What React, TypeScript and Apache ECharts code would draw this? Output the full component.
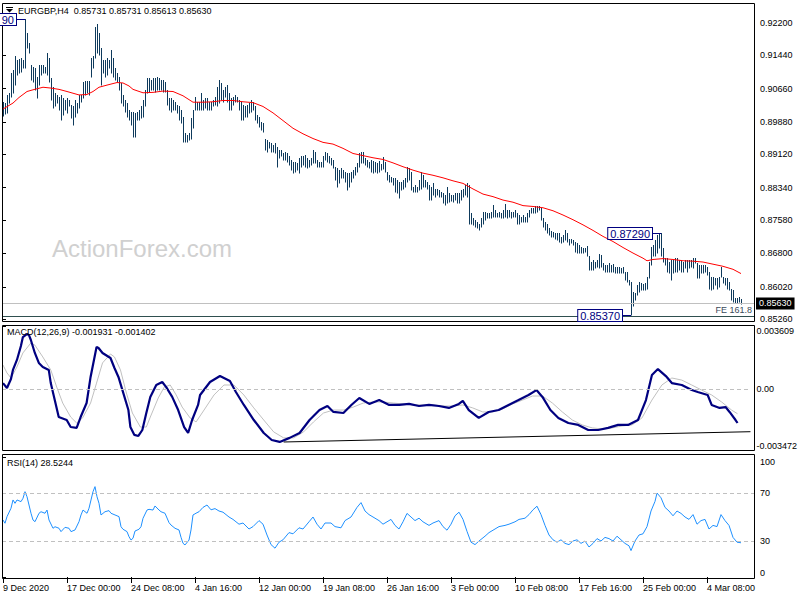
import React, { useEffect, useRef } from "react";
import * as echarts from "echarts";

const FONT = '"Liberation Sans", Arial, sans-serif';
const FS = 9;
const BAR_COLOR = "#0e3a5c";

// ---- price bars (4H, high / low) ----
const barHigh = [
  0.9035,0.9031,0.9051,0.9055,0.9102,0.9109,0.9141,0.9133,0.9134,0.9137,
  0.9133,0.9229,0.9195,0.9172,0.9121,0.9117,0.9113,0.9094,0.9121,0.9121,
  0.9121,0.9117,0.9148,0.9137,0.9090,0.9070,0.9055,0.9051,0.9047,0.9051,
  0.9043,0.9039,0.9043,0.9039,0.9027,0.9024,0.9039,0.9031,0.9051,0.9051,
  0.9082,0.9084,0.9084,0.9084,0.9137,0.9141,0.9211,0.9217,0.9195,0.9160,
  0.9133,0.9133,0.9137,0.9133,0.9156,0.9137,0.9113,0.9102,0.9094,0.9078,
  0.9051,0.9039,0.9031,0.9016,0.9012,0.9012,0.9008,0.9012,0.9016,0.9024,
  0.9039,0.9063,0.9090,0.9090,0.9086,0.9090,0.9090,0.9094,0.9090,0.9086,
  0.9086,0.9082,0.9063,0.9043,0.9043,0.9039,0.9035,0.9027,0.9024,0.9016,
  0.9000,0.8961,0.8957,0.8961,0.8996,0.9016,0.9047,0.9035,0.9035,0.9055,
  0.9039,0.9043,0.9043,0.9035,0.9035,0.9039,0.9047,0.9070,0.9086,0.9078,
  0.9063,0.9070,0.9074,0.9055,0.9043,0.9047,0.9051,0.9047,0.9039,0.9035,
  0.9027,0.9024,0.9027,0.9031,0.9039,0.9035,0.9024,0.9004,0.9000,0.8988,
  0.8985,0.8949,0.8946,0.8942,0.8938,0.8934,0.8938,0.8930,0.8922,0.8922,
  0.8914,0.8918,0.8914,0.8907,0.8899,0.8895,0.8895,0.8891,0.8903,0.8907,
  0.8907,0.8910,0.8903,0.8899,0.8903,0.8922,0.8918,0.8899,0.8895,0.8895,
  0.8907,0.8918,0.8914,0.8907,0.8903,0.8899,0.8883,0.8879,0.8875,0.8879,
  0.8875,0.8871,0.8868,0.8868,0.8871,0.8875,0.8883,0.8891,0.8914,0.8918,
  0.8918,0.8903,0.8899,0.8895,0.8899,0.8896,0.8895,0.8891,0.8896,0.8889,
  0.8905,0.8893,0.8871,0.8864,0.8860,0.8857,0.8857,0.8852,0.8848,0.8848,
  0.8852,0.8856,0.8883,0.8879,0.8871,0.8836,0.8840,0.8836,0.8852,0.8871,
  0.8864,0.8852,0.8848,0.8840,0.8836,0.8844,0.8832,0.8832,0.8829,0.8825,
  0.8821,0.8817,0.8836,0.8821,0.8818,0.8817,0.8821,0.8821,0.8821,0.8829,
  0.8832,0.8840,0.8844,0.8840,0.8774,0.8762,0.8758,0.8754,0.8750,0.8762,
  0.8778,0.8778,0.8774,0.8774,0.8778,0.8793,0.8782,0.8774,0.8778,0.8774,
  0.8782,0.8795,0.8782,0.8782,0.8778,0.8778,0.8782,0.8774,0.8770,0.8766,
  0.8770,0.8766,0.8774,0.8782,0.8786,0.8787,0.8790,0.8790,0.8790,0.8786,
  0.8762,0.8754,0.8750,0.8739,0.8733,0.8731,0.8729,0.8729,0.8727,0.8719,
  0.8723,0.8735,0.8727,0.8715,0.8715,0.8712,0.8708,0.8704,0.8700,0.8696,
  0.8692,0.8694,0.8698,0.8673,0.8661,0.8665,0.8661,0.8665,0.8678,0.8676,
  0.8657,0.8653,0.8653,0.8657,0.8653,0.8655,0.8649,0.8649,0.8649,0.8647,
  0.8649,0.8637,0.8636,0.8618,0.8614,0.8591,0.8587,0.8606,0.8614,0.8610,
  0.8608,0.8610,0.8626,0.8661,0.8696,0.8700,0.8712,0.8723,0.8727,0.8729,
  0.8692,0.8669,0.8669,0.8661,0.8665,0.8665,0.8669,0.8669,0.8665,0.8665,
  0.8661,0.8665,0.8665,0.8665,0.8665,0.8669,0.8669,0.8657,0.8653,0.8653,
  0.8653,0.8653,0.8649,0.8637,0.8626,0.8626,0.8622,0.8622,0.8626,0.8649,
  0.8626,0.8622,0.8622,0.8614,0.8598,0.8595,0.8575,0.8575,0.8579,0.8573,
];

const barLow = [
  0.9002,0.9006,0.9008,0.9031,0.9047,0.9055,0.9074,0.9098,0.9102,0.9105,
  0.9113,0.9113,0.9160,0.9148,0.9086,0.9082,0.9063,0.9043,0.9074,0.9098,
  0.9102,0.9102,0.9098,0.9082,0.9039,0.9020,0.9024,0.9031,0.9016,0.8992,
  0.9004,0.9016,0.9008,0.9024,0.8996,0.8981,0.9000,0.9008,0.9020,0.9035,
  0.9043,0.9051,0.9055,0.9051,0.9094,0.9113,0.9137,0.9148,0.9144,0.9074,
  0.9102,0.9094,0.9098,0.9113,0.9102,0.9094,0.9086,0.9082,0.9063,0.9031,
  0.9024,0.9012,0.9000,0.8992,0.8981,0.8953,0.8953,0.8992,0.8992,0.8996,
  0.9000,0.9024,0.9055,0.9059,0.9063,0.9063,0.9059,0.9063,0.9063,0.9063,
  0.9059,0.9059,0.9027,0.9016,0.9012,0.9016,0.9016,0.9008,0.8992,0.8985,
  0.8942,0.8942,0.8942,0.8946,0.8949,0.8973,0.9016,0.9016,0.9016,0.9016,
  0.9016,0.9020,0.9016,0.9016,0.9016,0.9024,0.9027,0.9024,0.9031,0.9039,
  0.9035,0.9047,0.9035,0.9016,0.9016,0.9027,0.9035,0.9035,0.9016,0.8992,
  0.8992,0.9000,0.9000,0.9008,0.9012,0.9016,0.8992,0.8985,0.8977,0.8969,
  0.8965,0.8922,0.8918,0.8926,0.8918,0.8918,0.8914,0.8883,0.8903,0.8907,
  0.8899,0.8899,0.8895,0.8887,0.8875,0.8868,0.8871,0.8875,0.8868,0.8883,
  0.8887,0.8883,0.8879,0.8883,0.8887,0.8891,0.8891,0.8883,0.8883,0.8883,
  0.8883,0.8899,0.8895,0.8891,0.8887,0.8879,0.8852,0.8836,0.8844,0.8856,
  0.8856,0.8848,0.8829,0.8836,0.8848,0.8856,0.8864,0.8871,0.8883,0.8891,
  0.8891,0.8887,0.8883,0.8879,0.8871,0.8868,0.8871,0.8868,0.8871,0.8875,
  0.8878,0.8871,0.8852,0.8848,0.8848,0.8840,0.8825,0.8821,0.8811,0.8829,
  0.8832,0.8836,0.8848,0.8852,0.8829,0.8825,0.8825,0.8825,0.8829,0.8832,
  0.8836,0.8836,0.8832,0.8805,0.8805,0.8817,0.8813,0.8817,0.8813,0.8813,
  0.8797,0.8793,0.8797,0.8801,0.8803,0.8801,0.8805,0.8797,0.8797,0.8805,
  0.8813,0.8817,0.8813,0.8750,0.8750,0.8747,0.8743,0.8739,0.8735,0.8743,
  0.8750,0.8758,0.8762,0.8762,0.8762,0.8766,0.8766,0.8766,0.8766,0.8762,
  0.8762,0.8766,0.8762,0.8766,0.8762,0.8766,0.8766,0.8750,0.8750,0.8754,
  0.8754,0.8754,0.8754,0.8766,0.8774,0.8774,0.8774,0.8778,0.8782,0.8758,
  0.8743,0.8735,0.8727,0.8723,0.8719,0.8719,0.8715,0.8712,0.8708,0.8704,
  0.8708,0.8712,0.8708,0.8700,0.8704,0.8700,0.8684,0.8680,0.8680,0.8680,
  0.8680,0.8684,0.8673,0.8641,0.8641,0.8641,0.8645,0.8649,0.8645,0.8649,
  0.8641,0.8637,0.8636,0.8637,0.8637,0.8637,0.8634,0.8634,0.8634,0.8634,
  0.8634,0.8618,0.8614,0.8606,0.8537,0.8556,0.8571,0.8583,0.8591,0.8595,
  0.8595,0.8595,0.8598,0.8622,0.8653,0.8673,0.8673,0.8680,0.8692,0.8673,
  0.8661,0.8653,0.8637,0.8634,0.8618,0.8634,0.8637,0.8637,0.8641,0.8637,
  0.8637,0.8645,0.8637,0.8645,0.8649,0.8645,0.8657,0.8622,0.8622,0.8634,
  0.8634,0.8637,0.8630,0.8598,0.8595,0.8598,0.8606,0.8598,0.8602,0.8626,
  0.8610,0.8606,0.8598,0.8595,0.8571,0.8567,0.8563,0.8563,0.8567,0.8561,
];

// ---- moving average (red), read at bar indices ----
const maPoints = [
  [0,0.9018],[5,0.9032],[8,0.9045],[12,0.9059],[15,0.9063],[20,0.9069],[24,0.9067],[28,0.9064],
  [32,0.9059],[35,0.9055],[38,0.9051],[42,0.9052],[45,0.9059],[48,0.9069],[52,0.9074],[57,0.9080],
  [60,0.9079],[63,0.9072],[65,0.9064],[70,0.9056],[75,0.9057],[80,0.9060],[85,0.9059],[90,0.9049],
  [95,0.9034],[100,0.9034],[105,0.9035],[110,0.9038],[115,0.9038],[120,0.9035],[125,0.9033],
  [130,0.9024],[135,0.9009],[140,0.8991],[145,0.8973],[150,0.8960],[155,0.8949],[160,0.8940],
  [165,0.8936],[170,0.8926],[175,0.8914],[180,0.8909],[185,0.8904],[190,0.8900],[195,0.8892],
  [200,0.8883],[205,0.8875],[210,0.8868],[215,0.8863],[220,0.8857],[225,0.8850],[230,0.8844],
  [235,0.8831],[240,0.8819],[245,0.8813],[250,0.8805],[255,0.8800],[260,0.8792],[265,0.8790],
  [270,0.8787],[275,0.8780],[280,0.8770],[285,0.8759],[290,0.8747],[295,0.8734],[300,0.8720],
  [305,0.8708],[310,0.8694],[315,0.8681],[320,0.8669],[322,0.8663],[325,0.8666],[330,0.8668],
  [335,0.8666],[340,0.8663],[345,0.8662],[350,0.8660],[355,0.8655],[360,0.8650],[365,0.8643],
  [369,0.8633],
];

// ---- MACD (12,26,9) main and signal ----
const macdPoints = [
  [0,0.00035],[2,0.00007],[4,0.00058],[5,0.00110],[7,0.00167],[9,0.00247],[10,0.00298],[12,0.00315],
  [13,0.00310],[14,0.00281],[16,0.00207],[18,0.00150],[20,0.00127],[23,0.00110],[24,0.00035],
  [26,-0.00062],[28,-0.00159],[32,-0.00176],[34,-0.00216],[37,-0.00221],[39,-0.00159],[42,-0.00079],
  [44,0.00070],[47,0.00241],[48,0.00235],[50,0.00207],[54,0.00178],[56,0.00121],[58,0.00070],
  [60,-0.00005],[63,-0.00119],[64,-0.00216],[66,-0.00261],[68,-0.00267],[70,-0.00233],[72,-0.00136],
  [74,-0.00044],[77,0.00024],[80,0.00041],[82,0.00012],[85,-0.00044],[88,-0.00119],[91,-0.00216],
  [93,-0.00250],[95,-0.00176],[98,-0.00090],[99,-0.00033],[104,0.00041],[109,0.00075],[114,0.00047],
  [117,-0.00016],[121,-0.00090],[126,-0.00176],[131,-0.00250],[135,-0.00290],[139,-0.00301],
  [144,-0.00278],[149,-0.00250],[154,-0.00176],[159,-0.00119],[163,-0.00096],[166,-0.00130],
  [171,-0.00136],[175,-0.00090],[179,-0.00050],[184,-0.00084],[189,-0.00062],[194,-0.00090],
  [199,-0.00090],[204,-0.00084],[209,-0.00096],[214,-0.00090],[219,-0.00096],[224,-0.00107],
  [229,-0.00084],[231,-0.00067],[234,-0.00119],[239,-0.00164],[244,-0.00130],[249,-0.00119],
  [254,-0.00090],[259,-0.00062],[264,-0.00033],[268,-0.00005],[271,-0.00044],[275,-0.00119],
  [279,-0.00164],[284,-0.00193],[289,-0.00204],[294,-0.00233],[299,-0.00233],[304,-0.00221],
  [309,-0.00204],[314,-0.00204],[319,-0.00176],[323,-0.00062],[326,0.00081],[329,0.00115],
  [333,0.00075],[336,0.00035],[341,0.00024],[346,-0.00005],[349,-0.00016],[354,-0.00033],
  [356,-0.00090],[360,-0.00107],[363,-0.00102],[365,-0.00130],[368,-0.00176],[369,-0.001931],
];

const signalPoints = [
  [0,0.00138],[2,0.00093],[4,0.00064],[7,0.00127],[10,0.00207],[14,0.00264],[16,0.00252],[20,0.00184],
  [24,0.00110],[27,0.00012],[30,-0.00079],[34,-0.00159],[37,-0.00193],[40,-0.00164],[44,-0.00079],
  [47,0.00035],[50,0.00150],[54,0.00201],[56,0.00184],[59,0.00110],[62,-0.00022],[65,-0.00136],
  [69,-0.00216],[72,-0.00216],[74,-0.00159],[78,-0.00050],[81,0.00012],[84,0.00024],[87,-0.00033],
  [90,-0.00102],[94,-0.00164],[97,-0.00187],[101,-0.00119],[106,-0.00033],[111,0.00024],[116,0.00024],
  [121,-0.00033],[126,-0.00107],[131,-0.00176],[136,-0.00244],[141,-0.00278],[146,-0.00278],
  [151,-0.00244],[156,-0.00187],[161,-0.00136],[166,-0.00119],[171,-0.00119],[176,-0.00102],
  [181,-0.00079],[186,-0.00073],[191,-0.00073],[196,-0.00079],[201,-0.00084],[206,-0.00090],
  [211,-0.00090],[216,-0.00090],[221,-0.00096],[226,-0.00096],[231,-0.00090],[236,-0.00107],
  [241,-0.00130],[246,-0.00130],[251,-0.00113],[256,-0.00084],[261,-0.00062],[266,-0.00039],
  [271,-0.00039],[276,-0.00079],[281,-0.00130],[286,-0.00176],[291,-0.00204],[296,-0.00221],
  [301,-0.00227],[306,-0.00221],[311,-0.00210],[316,-0.00204],[321,-0.00164],[326,-0.00062],
  [331,0.00024],[336,0.00064],[341,0.00052],[346,0.00024],[351,-0.00005],[356,-0.00033],
  [361,-0.00073],[366,-0.00119],[369,-0.001402],
];

// MACD support trendline end points [barIndex, value]
const macdTrendStart = [141, -0.003015];
const macdTrendEnd = [375.5, -0.002427];

// ---- RSI(14) ----
const rsiPoints = [
  [0,47.5],[1,44.8],[2,50.3],[4,57.3],[5,64.2],[6,61.4],[7,64.2],[9,62.8],[10,65.6],[11,71.1],
  [12,66.9],[13,60],[14,53.1],[15,47.5],[16,46.1],[18,53.1],[19,54.4],[21,53.1],[22,55.8],[23,47.5],
  [25,40.6],[26,41.9],[28,40.6],[29,37.8],[31,41.4],[33,40.6],[34,37.8],[36,39.2],[38,46.1],[39,51.7],
  [40,55.8],[42,53.1],[43,57.3],[44,64.2],[45,71.1],[46,75.3],[47,66.9],[48,61.4],[49,51.7],[51,54.4],
  [53,55.3],[54,53.1],[56,51.7],[58,50.3],[59,41.9],[60,39.8],[62,37.8],[63,33.6],[64,30.8],[65,32.3],
  [66,38.3],[68,39.8],[69,41.9],[70,48.9],[72,55.8],[73,56.4],[75,55.8],[76,59.2],[78,55.8],[79,54.4],
  [81,53.1],[83,45.3],[84,43.3],[86,40.6],[88,39.2],[89,33.1],[90,28.1],[91,26.7],[93,30.8],[94,39.2],
  [95,51.7],[97,53.6],[98,54.4],[100,58],[102,60],[104,56],[106,57],[108,55],[110,54],[113,50],
  [115,48],[118,44],[120,45],[123,40],[125,42],[128,47],[130,44],[132,35],[134,27],[136,24],
  [138,29],[140,31],[143,37],[145,36],[148,41],[150,40],[153,46],[155,50],[157,44],[159,40],
  [161,45],[164,45],[166,42],[169,41],[171,47],[174,50],[177,58],[179,62],[181,55],[183,52],
  [186,49],[188,47],[190,44],[192,46],[194,48],[196,43],[198,40],[200,46],[202,53],[204,50],
  [206,47],[208,49],[210,46],[213,43],[215,45],[218,47],[220,42],[222,39],[224,44],[226,51],
  [228,54],[230,48],[232,38],[234,29],[236,27],[238,30],[241,34],[243,37],[246,40],[248,42],
  [251,43],[253,44],[256,46],[258,48],[261,49],[263,52],[265,56],[267,59],[269,52],[271,43],
  [273,35],[275,31],[277,29],[279,31],[281,28],[283,27],[285,30],[287,31],[289,28],[291,30],
  [293,25],[295,28],[297,32],[299,30],[301,33],[303,32],[305,30],[307,34],[309,31],[311,28],
  [313,26],[314,22],[316,30],[318,35],[320,36],[322,42],[324,55],[326,63],[327,70],[329,66],
  [331,58],[333,55],[335,51],[337,55],[339,53],[341,50],[343,48],[345,52],[347,44],[349,47],
  [351,48],[353,40],[355,43],[357,42],[359,52],[361,47],[363,43],[365,33],[367,29],[369,28.52],
];

// ---- axis ticks ----
const priceTicks = [0.922, 0.9144, 0.9066, 0.8988, 0.8912, 0.8834, 0.8758, 0.868, 0.8602, 0.8526];
const macdTicks = [-0.003472, 0, 0.003609];
const rsiTicks = [0, 30, 70, 100];
const rsiLevels = [70, 30];
const timeTickIdx = [0, 32, 64, 96, 128, 160, 192, 224, 256, 288, 320, 352];
const timeTickLabels = [
  "9 Dec 2020", "17 Dec 00:00", "24 Dec 08:00", "4 Jan 16:00", "12 Jan 00:00", "19 Jan 08:00",
  "26 Jan 16:00", "3 Feb 00:00", "10 Feb 08:00", "17 Feb 16:00", "25 Feb 00:00", "4 Mar 08:00",
];

// ---- texts / levels ----
const headerText = "EURGBP,H4  0.85731 0.85731 0.85613 0.85630";
const macdHeader = "MACD(12,26,9) -0.001931 -0.001402";
const rsiHeader = "RSI(14) 28.5244";
const bidPrice = 0.8563;
const fePrice = 0.8533;
const annotations = [
  { label: "90", bar: 11, price: 0.9229 },
  { label: "0.87290", bar: 329, price: 0.8729 },
  { label: "0.85370", bar: 314, price: 0.8537 },
];

const X_MIN = -0.5;
const X_MAX = 375.5;
const GRID_L = 2;
const GRID_R = 46;

function buildOption(): any {
  const bars = barHigh.map((h, i) => [i, barLow[i], h]);
  const hiddenX = (gi: number) => ({
    gridIndex: gi, type: "value", min: X_MIN, max: X_MAX, show: false,
  });
  const axisText = { color: "#000", fontFamily: FONT, fontSize: FS };
  return {
    animation: false,
    backgroundColor: "#ffffff",
    textStyle: { fontFamily: FONT },
    grid: [
      { left: GRID_L, right: GRID_R, top: 3, height: 319 },
      { left: GRID_L, right: GRID_R, top: 326, height: 124 },
      { left: GRID_L, right: GRID_R, top: 457, height: 120 },
    ],
    xAxis: [
      hiddenX(0),
      hiddenX(1),
      {
        gridIndex: 2, type: "value", min: X_MIN, max: X_MAX,
        axisLine: { show: false }, splitLine: { show: false },
        axisTick: { show: true, customValues: timeTickIdx, length: 6, lineStyle: { color: "#000" } },
        axisLabel: {
          ...axisText, customValues: timeTickIdx, align: "left", margin: 6,
          formatter: (v: number) => timeTickLabels[timeTickIdx.indexOf(Math.round(v))] ?? "",
        },
      },
    ],
    yAxis: [
      {
        gridIndex: 0, type: "value", position: "right", min: 0.85197, max: 0.92661, scale: true,
        axisLine: { show: false }, splitLine: { show: false },
        axisTick: { show: true, customValues: priceTicks, length: 3, lineStyle: { color: "#000" } },
        axisLabel: { ...axisText, customValues: priceTicks, margin: 6, formatter: (v: number) => v.toFixed(5) },
      },
      {
        gridIndex: 1, type: "value", position: "right", min: -0.003472, max: 0.003609,
        axisLine: { show: false }, splitLine: { show: false },
        axisTick: { show: true, customValues: macdTicks, length: 3, lineStyle: { color: "#000" } },
        axisLabel: {
          ...axisText, customValues: macdTicks, margin: 6,
          verticalAlignMinLabel: "bottom", verticalAlignMaxLabel: "top",
          formatter: (v: number) => (Math.abs(v) < 1e-9 ? "0.00" : v.toFixed(6)),
        },
      },
      {
        gridIndex: 2, type: "value", position: "right", min: 0, max: 100,
        axisLine: { show: false }, splitLine: { show: false },
        axisTick: { show: true, customValues: rsiTicks, length: 3, lineStyle: { color: "#000" } },
        axisLabel: {
          ...axisText, customValues: rsiTicks, margin: 6,
          verticalAlignMinLabel: "bottom", verticalAlignMaxLabel: "top",
        },
      },
    ],
    series: [
      {
        type: "custom", name: "bars", xAxisIndex: 0, yAxisIndex: 0,
        data: bars, encode: { x: 0, y: [1, 2] }, silent: true, z: 3,
        renderItem: (_p: any, api: any) => {
          const i = api.value(0);
          const lo = api.coord([i, api.value(1)]);
          const hi = api.coord([i, api.value(2)]);
          const x = Math.floor(lo[0]) + 0.5;
          return {
            type: "line",
            shape: { x1: x, y1: Math.round(lo[1]) + 0.5, x2: x, y2: Math.min(Math.round(hi[1]), Math.round(lo[1]) - 1) },
            style: { stroke: BAR_COLOR, lineWidth: 1 },
          };
        },
      },
      {
        type: "line", name: "MA", xAxisIndex: 0, yAxisIndex: 0, data: maPoints,
        symbol: "none", silent: true, z: 4,
        lineStyle: { color: "#ff0000", width: 1 },
        markLine: {
          symbol: "none", silent: true, animation: false, precision: 6,
          data: [
            {
              yAxis: bidPrice,
              lineStyle: { color: "#c0c0c0", type: "solid", width: 1 },
              label: {
                show: true, position: "end", distance: 2, formatter: bidPrice.toFixed(5),
                color: "#ffffff", backgroundColor: "#000000", padding: [2, 3, 1, 3],
                fontFamily: FONT, fontSize: FS,
              },
            },
            {
              yAxis: fePrice,
              lineStyle: { color: "#2f4f4f", type: "solid", width: 1 },
              label: {
                show: true, position: "insideEndTop", distance: [2, 2], formatter: "FE 161.8",
                color: "#3a4a5a", fontFamily: FONT, fontSize: FS,
              },
            },
          ],
        },
      },
      {
        type: "line", name: "Signal", xAxisIndex: 1, yAxisIndex: 1, data: signalPoints,
        symbol: "none", silent: true, z: 3,
        lineStyle: { color: "#c0c0c0", width: 1 },
        markLine: {
          symbol: "none", silent: true, animation: false, precision: 6, label: { show: false },
          lineStyle: { color: "#c0c0c0", type: [4, 3], width: 1 },
          data: [{ yAxis: 0 }],
        },
      },
      {
        type: "line", name: "MACD", xAxisIndex: 1, yAxisIndex: 1, data: macdPoints,
        symbol: "none", silent: true, z: 4,
        lineStyle: { color: "#000080", width: 2.2 },
        markLine: {
          symbol: "none", silent: true, animation: false, precision: 6, label: { show: false },
          lineStyle: { color: "#000000", type: "solid", width: 1 },
          data: [[{ coord: macdTrendStart }, { coord: macdTrendEnd }]],
        },
      },
      {
        type: "line", name: "RSI", xAxisIndex: 2, yAxisIndex: 2, data: rsiPoints,
        symbol: "none", silent: true, z: 4,
        lineStyle: { color: "#1e90ff", width: 1 },
        markLine: {
          symbol: "none", silent: true, animation: false, precision: 4, label: { show: false },
          lineStyle: { color: "#c0c0c0", type: [4, 3], width: 1 },
          data: rsiLevels.map((v) => ({ yAxis: v })),
        },
      },
    ],
  };
}

export default function App() {
  const ref = useRef<HTMLDivElement>(null);
  useEffect(() => {
    const el = ref.current;
    if (!el) return;
    const chart = echarts.init(el, undefined, { renderer: "svg" });
    chart.setOption(buildOption());

    const frameStyle = { fill: "none", stroke: "#000000", lineWidth: 1 };
    const txt = (text: string, x: number, y: number, extra: any = {}) => ({
      type: "text", x, y, silent: true, z: 10,
      style: { text, fill: "#000", font: `${FS}px ${FONT}`, verticalAlign: "middle", ...extra },
    });
    const graphics: any[] = [
      { type: "text", x: 52, y: 248, z: 0, silent: true,
        style: { text: "ActionForex.com", fill: "#d0d0d0", font: `24px ${FONT}`, verticalAlign: "middle" } },
      { type: "rect", silent: true, z: 10, shape: { x: 2.5, y: 3.5, width: 752, height: 318 }, style: frameStyle },
      { type: "rect", silent: true, z: 10, shape: { x: 2.5, y: 325.5, width: 752, height: 125 }, style: frameStyle },
      { type: "rect", silent: true, z: 10, shape: { x: 2.5, y: 454.5, width: 752, height: 124 }, style: frameStyle },
      { type: "polygon", silent: true, z: 10, shape: { points: [[6, 9], [13, 9], [9.5, 12.5]] }, style: { fill: "#000" } },
      { type: "line", silent: true, z: 10, shape: { x1: 6, y1: 7.5, x2: 13, y2: 7.5 }, style: { stroke: "#000", lineWidth: 1 } },
      txt(headerText, 18, 11),
      txt(macdHeader, 7, 332),
      txt(rsiHeader, 7, 463),
    ];
    annotations.forEach((a) => {
      const p = chart.convertToPixel({ gridIndex: 0 } as any, [a.bar, a.price]) as number[];
      const boxRight = Math.round(p[0]) - 9;
      const y = Math.round(p[1]) + 0.5;
      graphics.push({
        type: "line", silent: true, z: 11,
        shape: { x1: boxRight, y1: y, x2: p[0], y2: y },
        style: { stroke: "#000080", lineWidth: 1 },
      });
      graphics.push({
        type: "text", x: boxRight, y, silent: true, z: 12,
        style: {
          text: a.label, fill: "#000080", font: `11px ${FONT}`, align: "right", verticalAlign: "middle",
          backgroundColor: "#ffffff", borderColor: "#000080", borderWidth: 1, padding: [0, 2, 0, 2],
        },
      });
    });
    chart.setOption({ graphic: graphics });
    return () => chart.dispose();
  }, []);
  return (
    <div
      ref={ref}
      style={{ position: "absolute", left: 0, top: 0, width: 800, height: 600, background: "#fff" }}
    />
  );
}
